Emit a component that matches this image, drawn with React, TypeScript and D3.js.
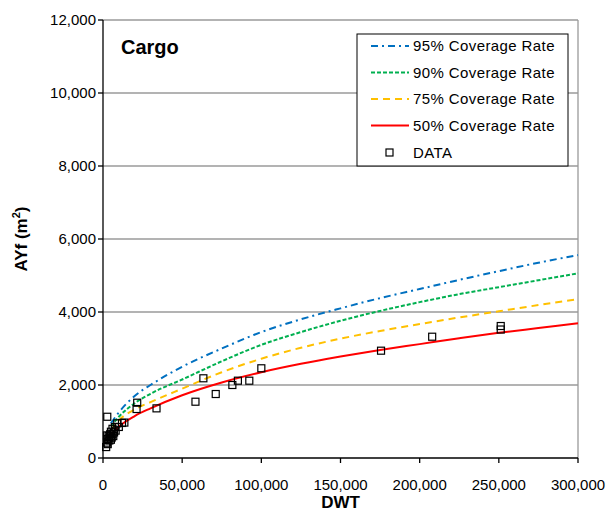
import React from "react";
import * as d3 from "d3";

const curveDwt = [5000, 10000, 20000, 30000, 50000, 75000, 100000, 125000, 150000, 175000, 200000, 225000, 250000, 275000, 300000];
const cov95 = [950, 1250, 1700, 2000, 2500, 3000, 3450, 3800, 4100, 4380, 4630, 4880, 5120, 5350, 5560];
const cov90 = [860, 1130, 1500, 1760, 2150, 2650, 3100, 3450, 3760, 4030, 4270, 4490, 4680, 4870, 5060];
const cov75 = [760, 1030, 1330, 1530, 1900, 2350, 2720, 3020, 3270, 3480, 3670, 3850, 4020, 4190, 4350];
const cov50 = [640, 860, 1150, 1360, 1720, 2070, 2350, 2580, 2780, 2960, 3120, 3280, 3430, 3560, 3690];

const dataDwt = [2700, 2000, 2500, 3000, 3500, 4000, 4500, 5000, 5500, 6000, 6500, 7000, 7500, 8000, 9000, 10000, 12000, 13500, 3000, 4000, 5000, 6000, 2500, 21600, 21200, 33800, 58400, 63400, 71200, 81700, 85200, 92400, 100000, 175600, 207900, 251200, 251200];
const dataAyf = [1130, 300, 420, 520, 600, 480, 650, 720, 560, 800, 600, 700, 850, 750, 950, 850, 960, 970, 380, 560, 500, 650, 620, 1515, 1342, 1360, 1542, 2184, 1753, 2000, 2118, 2118, 2458, 2940, 3323, 3616, 3520];

const yTicks = [0, 2000, 4000, 6000, 8000, 10000, 12000];
const xTicks = [0, 50000, 100000, 150000, 200000, 250000, 300000];

const series = [
  { name: "95% Coverage Rate", values: cov95, color: "#0070C0", dash: "7,4,2,4" },
  { name: "90% Coverage Rate", values: cov90, color: "#00B050", dash: "4,2" },
  { name: "75% Coverage Rate", values: cov75, color: "#FFC000", dash: "7,5" },
  { name: "50% Coverage Rate", values: cov50, color: "#FF0000", dash: "none" },
];

export default function App() {
  const left = 103, right = 578, top = 20, bottom = 458;
  const x = d3.scaleLinear().domain([0, 300000]).range([left, right]);
  const y = d3.scaleLinear().domain([0, 12000]).range([bottom, top]);
  const fmt = d3.format(",");
  const font = "'Liberation Sans', Arial, sans-serif";

  return (
    <div style={{ position: "absolute", left: 0, top: 0 }}>
      <svg width={608} height={511} style={{ display: "block", background: "#fff" }} fontFamily={font}>
        <rect x={0} y={0} width={608} height={511} fill="#fff" />
        {yTicks.slice(1).map((t) => (
          <line key={t} x1={left} x2={right} y1={y(t)} y2={y(t)} stroke="#9a9a9a" strokeWidth={1.3} />
        ))}
        <line x1={right} x2={right} y1={top} y2={bottom} stroke="#9a9a9a" strokeWidth={1.3} />
        {series.map((s) => {
          const line = d3
            .line<number>()
            .x((_, i) => x(curveDwt[i]))
            .y((v) => y(v))
            .curve(d3.curveMonotoneX);
          return (
            <path key={s.name} d={line(s.values) || ""} fill="none" stroke={s.color} strokeWidth={2} strokeDasharray={s.dash} />
          );
        })}
        {dataDwt.map((d, i) => (
          <rect key={i} x={x(d) - 3.5} y={y(dataAyf[i]) - 3.5} width={7} height={7} fill="none" stroke="#000" strokeWidth={1.2} />
        ))}
        <line x1={left} x2={left} y1={top} y2={bottom} stroke="#000" strokeWidth={1.3} />
        <line x1={left} x2={right} y1={bottom} y2={bottom} stroke="#000" strokeWidth={1.3} />
        {yTicks.map((t) => (
          <g key={t}>
            <line x1={left - 5} x2={left} y1={y(t)} y2={y(t)} stroke="#000" strokeWidth={1.3} />
            <text x={left - 7} y={y(t) + 5} textAnchor="end" fontSize={15}>{fmt(t)}</text>
          </g>
        ))}
        {xTicks.map((t) => (
          <g key={t}>
            <line x1={x(t)} x2={x(t)} y1={bottom} y2={bottom + 5} stroke="#000" strokeWidth={1.3} />
            <text x={x(t)} y={490} textAnchor="middle" fontSize={15}>{fmt(t)}</text>
          </g>
        ))}
        <text x={(left + right) / 2} y={508} textAnchor="middle" fontSize={17} fontWeight="bold">DWT</text>
        <text transform={`translate(27,${(top + bottom) / 2}) rotate(-90)`} textAnchor="middle" fontSize={17} fontWeight="bold">
          AYf (m<tspan dy={-7} fontSize={11}>2</tspan><tspan dy={7}>)</tspan>
        </text>
        <text x={121} y={54} fontSize={20} fontWeight="bold">Cargo</text>
        <rect x={357} y={34} width={211} height={132} fill="#fff" stroke="#000" strokeWidth={1} />
        {series.map((s, i) => {
          const ly = 46 + i * 26.5;
          return (
            <g key={s.name}>
              <line x1={371} x2={409} y1={ly} y2={ly} stroke={s.color} strokeWidth={2} strokeDasharray={s.dash} />
              <text x={413} y={ly + 5} fontSize={15} letterSpacing={0.4}>{s.name}</text>
            </g>
          );
        })}
        <rect x={386} y={149} width={7} height={7} fill="none" stroke="#000" strokeWidth={1.2} />
        <text x={413} y={157.5} fontSize={15} letterSpacing={0.4}>DATA</text>
      </svg>
    </div>
  );
}
